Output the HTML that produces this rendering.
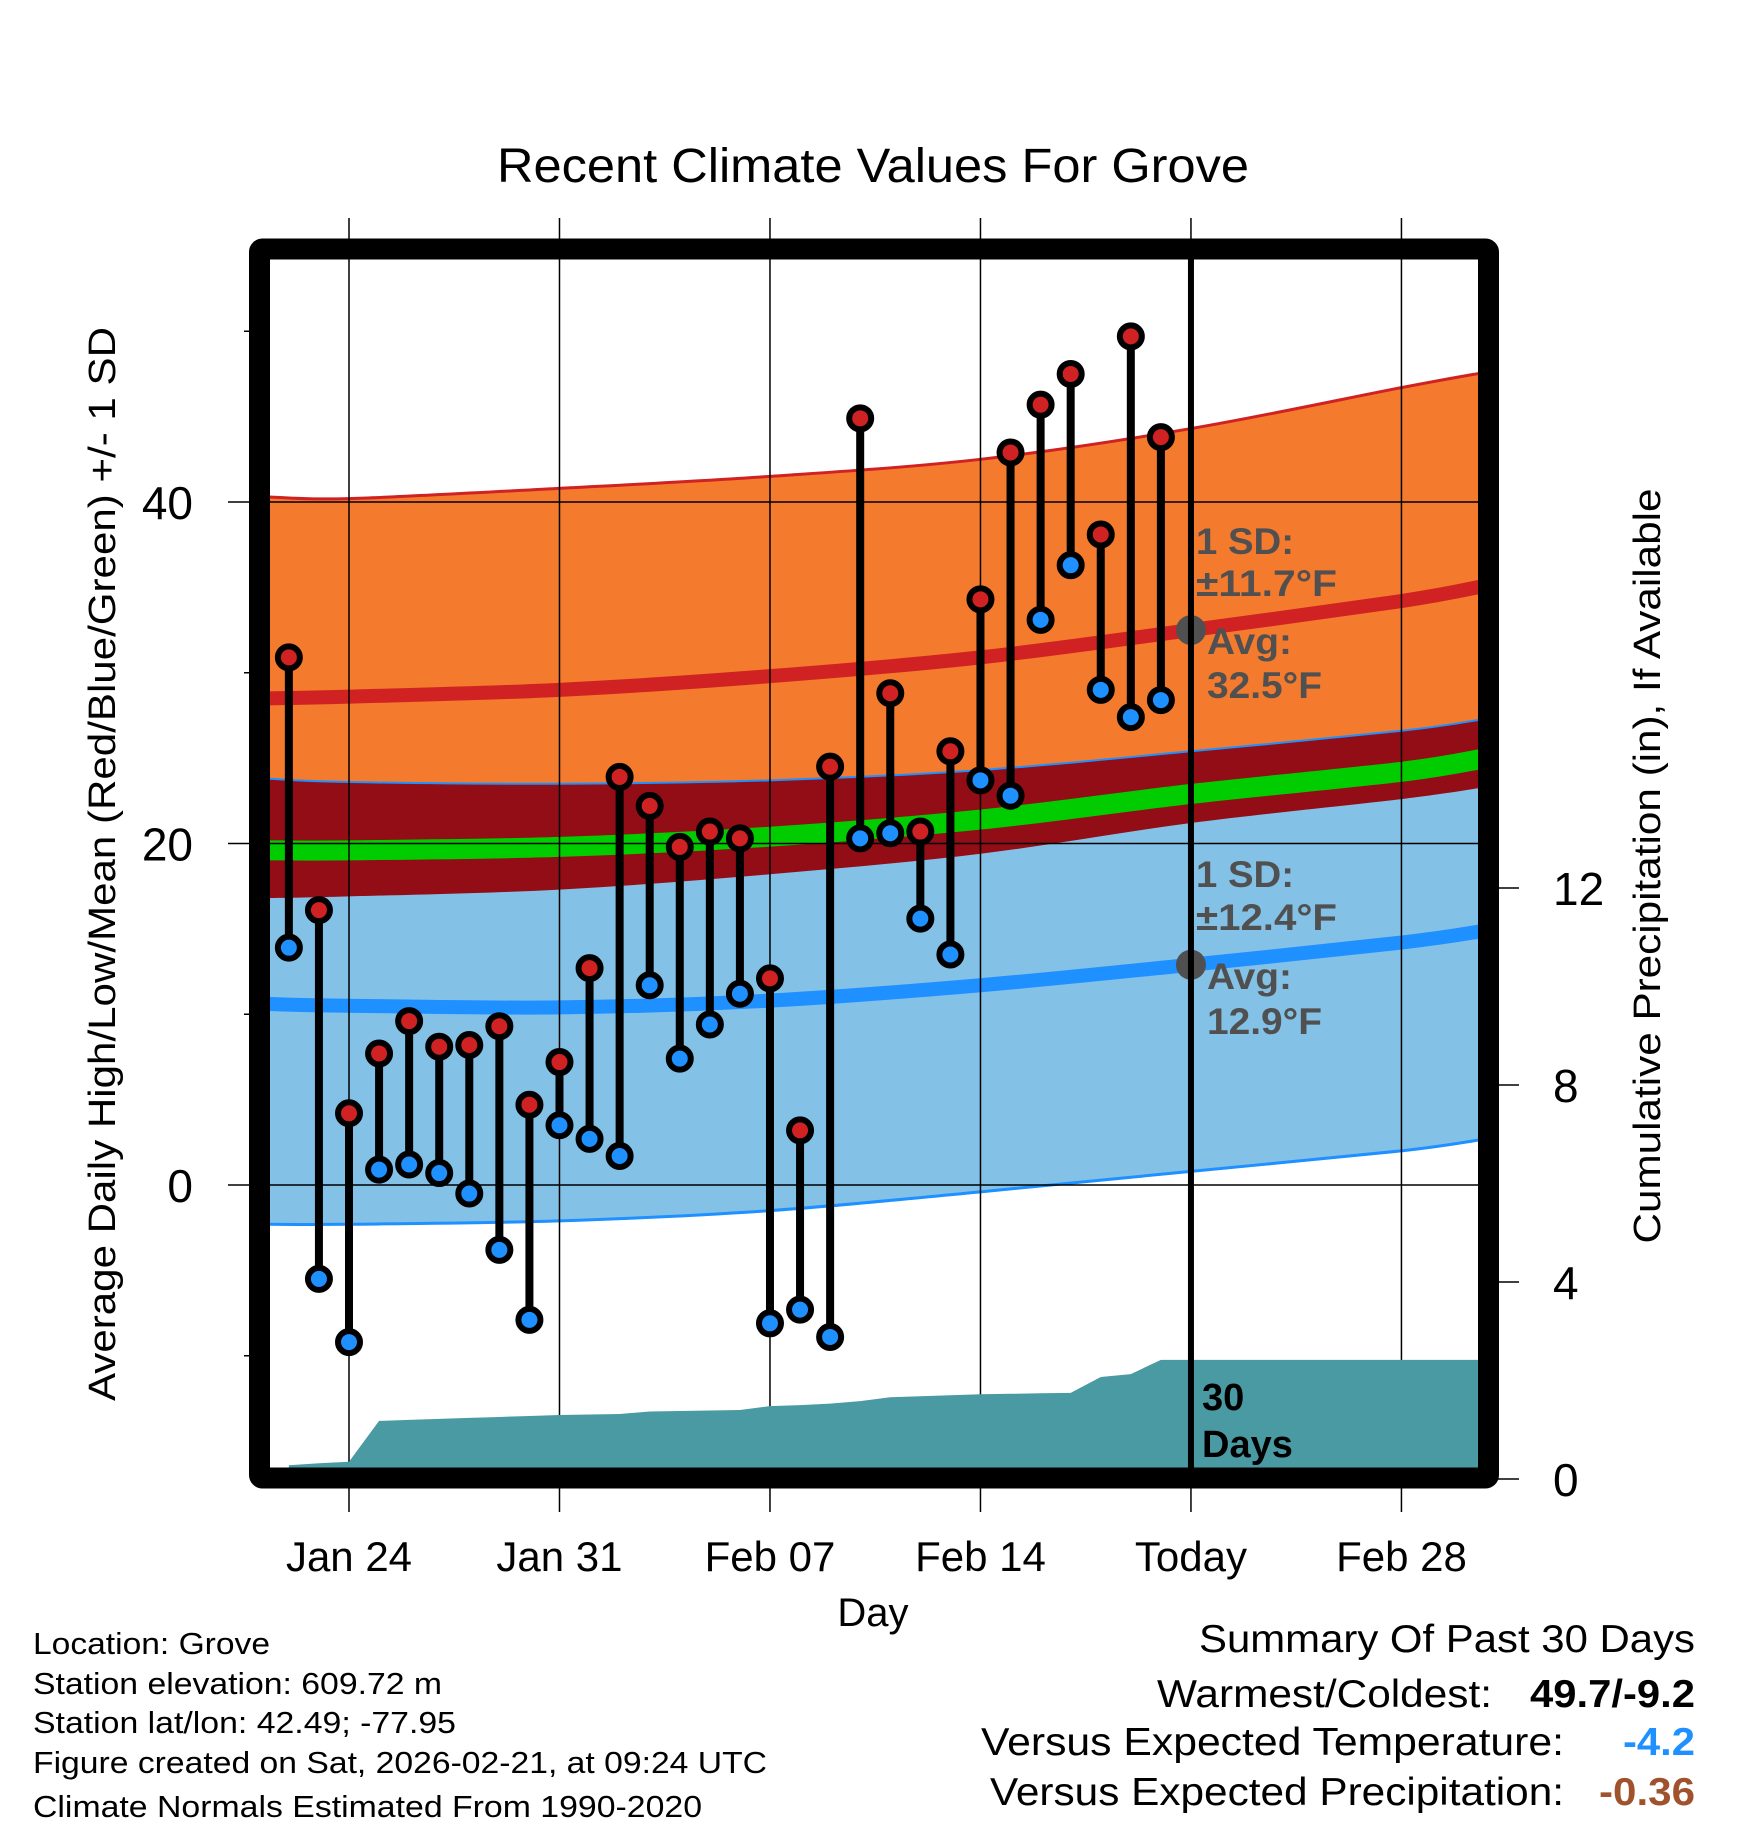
<!DOCTYPE html>
<html><head><meta charset="utf-8"><title>Recent Climate Values For Grove</title>
<style>html,body{margin:0;padding:0;background:#fff;}svg{display:block;font-family:"Liberation Sans",sans-serif;}</style>
</head><body>
<svg id="chart" width="1748" height="1828" viewBox="0 0 1748 1828" xmlns="http://www.w3.org/2000/svg">
<defs><clipPath id="plotclip"><rect x="270" y="259" width="1208" height="1209"/></clipPath></defs>
<text x="873" y="182" font-size="48" text-anchor="middle" textLength="752" lengthAdjust="spacingAndGlyphs">Recent Climate Values For Grove</text>
<g id="bands" clip-path="url(#plotclip)"></g>
<g id="grid"></g>
<g id="precip" clip-path="url(#plotclip)"></g>
<g id="annot"></g>
<g id="marks"></g>
<g id="axes"></g>
<text transform="translate(115,864) rotate(-90)" font-size="38" text-anchor="middle" textLength="1074" lengthAdjust="spacingAndGlyphs">Average Daily High/Low/Mean (Red/Blue/Green) +/- 1 SD</text>
<text transform="translate(1660,866) rotate(-90)" font-size="38" text-anchor="middle" textLength="755" lengthAdjust="spacingAndGlyphs">Cumulative Precipitation (in), If Available</text>
<text x="873" y="1626" font-size="40" text-anchor="middle">Day</text>
<g font-size="31">
<text x="33" y="1654" textLength="237" lengthAdjust="spacingAndGlyphs">Location: Grove</text>
<text x="33" y="1694" textLength="409" lengthAdjust="spacingAndGlyphs">Station elevation: 609.72 m</text>
<text x="33" y="1733" textLength="423" lengthAdjust="spacingAndGlyphs">Station lat/lon: 42.49; -77.95</text>
<text x="33" y="1773" textLength="734" lengthAdjust="spacingAndGlyphs">Figure created on Sat, 2026-02-21, at 09:24 UTC</text>
<text x="33" y="1817" textLength="669" lengthAdjust="spacingAndGlyphs">Climate Normals Estimated From 1990-2020</text>
</g>
<g font-size="39">
<text x="1199" y="1652" textLength="496" lengthAdjust="spacingAndGlyphs">Summary Of Past 30 Days</text>
<text x="1157" y="1707" textLength="335" lengthAdjust="spacingAndGlyphs">Warmest/Coldest:</text>
<text x="1530" y="1707" font-weight="bold" textLength="165" lengthAdjust="spacingAndGlyphs">49.7/-9.2</text>
<text x="981" y="1755" textLength="583" lengthAdjust="spacingAndGlyphs">Versus Expected Temperature:</text>
<text x="1623" y="1755" font-weight="bold" fill="#1e90ff" textLength="72" lengthAdjust="spacingAndGlyphs">-4.2</text>
<text x="990" y="1805" textLength="574" lengthAdjust="spacingAndGlyphs">Versus Expected Precipitation:</text>
<text x="1599" y="1805" font-weight="bold" fill="#a0522d" textLength="96" lengthAdjust="spacingAndGlyphs">-0.36</text>
</g>
</svg>
<script>
// ---- data ----
// day offsets relative to Jan 24
const obsDays = [-2,-1,0,1,2,3,4,5,6,7,8,9,10,11,12,13,14,15,16,17,18,19,20,21,22,23,24,25,26,27];
const highs = [30.9,16.1,4.2,7.7,9.6,8.1,8.2,9.3,4.7,7.2,12.7,23.9,22.2,19.8,20.7,20.3,12.1,3.2,24.5,44.9,28.8,20.7,25.4,34.3,42.9,45.7,47.5,38.1,49.7,43.8];
const lows = [13.9,-5.5,-9.2,0.9,1.2,0.7,-0.5,-3.8,-7.9,3.5,2.7,1.7,11.7,7.4,9.4,11.2,-8.1,-7.3,-8.9,20.3,20.6,15.6,13.5,23.7,22.8,33.1,36.3,29.0,27.4,28.4];
const precipDays = [-2,-1,0,1,2,3,4,5,6,7,8,9,10,11,12,13,14,15,16,17,18,19,20,21,22,23,24,25,26,27,38];
const precipCum = [0.28,0.32,0.35,1.18,1.2,1.22,1.24,1.26,1.28,1.3,1.31,1.32,1.37,1.38,1.39,1.4,1.48,1.5,1.53,1.58,1.66,1.68,1.7,1.72,1.73,1.74,1.75,2.07,2.13,2.42,2.42];
const normDays = [-2.7,0,7,14,21,28,35,37.8];
const highUpper = [40.3,40.2,40.8,41.5,42.5,44.3,46.7,47.6];
const highMean = [28.5,28.6,29.0,29.8,30.9,32.5,34.2,35.1];
const highLower = [16.8,16.9,17.3,18.2,19.4,21.2,22.6,23.3];
const avgMean = [19.6,19.6,19.8,20.4,21.4,22.9,24.2,25.0];
const lowUpper = [23.8,23.6,23.5,23.7,24.3,25.4,26.6,27.3];
const lowMean = [10.6,10.5,10.4,10.8,11.7,12.9,14.2,14.9];
const lowLower = [-2.3,-2.3,-2.1,-1.5,-0.4,0.8,2.0,2.7];
const xTickDays = [0,7,14,21,28,35];
const xTickLabels = ["Jan 24","Jan 31","Feb 07","Feb 14","Today","Feb 28"];
const yMajor = [0,20,40];
const yMinor = [-10,10,30,50];
const pTicks = [0,4,8,12];
const todayDay = 28;
const hiStat = {sd:"±11.7°F", avg:"32.5°F", val:32.5};
const loStat = {sd:"±12.4°F", avg:"12.9°F", val:12.9};

// ---- axes ----
const X = d => 349 + d*30.07;
const Y = t => 1185 - t*17.075;
const P = v => 1479 - v*49.25;
const NS = "http://www.w3.org/2000/svg";
function mk(tag, attrs, parent){const e=document.createElementNS(NS,tag);for(const k in attrs)e.setAttribute(k,attrs[k]);parent.appendChild(e);return e;}
function smooth(xs, ys){
  const pts = xs.map((d,i)=>[X(d),Y(ys[i])]);
  let s = "M"+pts[0][0]+","+pts[0][1];
  for(let i=0;i<pts.length-1;i++){
    const p0=pts[Math.max(0,i-1)],p1=pts[i],p2=pts[i+1],p3=pts[Math.min(pts.length-1,i+2)];
    const c1=[p1[0]+(p2[0]-p0[0])/6,p1[1]+(p2[1]-p0[1])/6];
    const c2=[p2[0]-(p3[0]-p1[0])/6,p2[1]-(p3[1]-p1[1])/6];
    s+=" C"+c1+" "+c2+" "+p2;
  }
  return s;
}
function band(upper, lower){
  const up = smooth(normDays, upper);
  const rd = normDays.slice().reverse(), rl = lower.slice().reverse();
  const lo = smooth(rd, rl).replace(/^M/," L");
  return up+lo+" Z";
}
const bands=document.getElementById('bands');
let e;
e=mk('path',{d:band(highUpper,highLower),fill:'#f47a2d'},bands);


e=mk('path',{d:band(lowUpper,lowLower),fill:'#83c1e7'},bands);


e=mk('path',{d:band(lowUpper,highLower),fill:'#920d15'},bands);


e=mk('path',{d:smooth(normDays,highUpper),fill:'none',stroke:'#d02222','stroke-width':3},bands);


e=mk('path',{d:smooth(normDays,lowUpper),fill:'none',stroke:'#1e90ff','stroke-width':2},bands);


e=mk('path',{d:smooth(normDays,lowLower),fill:'none',stroke:'#1e90ff','stroke-width':3},bands);


e=mk('path',{d:smooth(normDays,avgMean),fill:'none',stroke:'#00cc00','stroke-width':20},bands);


e=mk('path',{d:smooth(normDays,highMean),fill:'none',stroke:'#d02222','stroke-width':14},bands);


e=mk('path',{d:smooth(normDays,lowMean),fill:'none',stroke:'#1e90ff','stroke-width':14},bands);



// grid
const grid=document.getElementById('grid');
xTickDays.forEach(d=>{
  const g=mk('line',{x1:X(d),x2:X(d),y1:218,y2:1512,stroke:'#000','stroke-width':1.5},grid);
  
  
});
yMajor.forEach(t=>{
  const g=mk('line',{x1:228,x2:1478,y1:Y(t),y2:Y(t),stroke:'#000','stroke-width':1.5},grid);
  
  
});

// precip
const pg=document.getElementById('precip');
let pd="M"+X(precipDays[0])+","+P(0);
precipDays.forEach((d,i)=>{pd+=" L"+X(d)+","+P(precipCum[i]);});
pd+=" L"+X(precipDays[precipDays.length-1])+","+P(0)+" Z";
e=mk('path',{d:pd,fill:'#4a9aa3'},pg);



// annotations
const an=document.getElementById('annot');
function ann(stat, y1, y2, y3, y4, nm){
  const c=mk('circle',{cx:X(todayDay),cy:Y(stat.val),r:15,fill:'#505050'},an);
  
  
  [["1 SD:",1196,y1,98],[stat.sd,1196,y2,141],["Avg:",1207,y3,85],[stat.avg,1207,y4,115]].forEach(a=>{
    const t=mk('text',{x:a[1],y:a[2],'font-size':37,'font-weight':'bold',fill:'#505050',textLength:a[3],lengthAdjust:'spacingAndGlyphs'},an);
    t.textContent=a[0];
    
    
  });
}
ann(hiStat,554,596,654,698,'high');
ann(loStat,887,930,989,1034,'low');
e=mk('text',{x:1202,y:1410,'font-size':38,'font-weight':'bold'},an);e.textContent="30";


e=mk('text',{x:1202,y:1457,'font-size':38,'font-weight':'bold'},an);e.textContent="Days";



// marks
const mg=document.getElementById('marks');
obsDays.forEach((d,i)=>{
  const s=mk('line',{x1:X(d),x2:X(d),y1:Y(highs[i]),y2:Y(lows[i]),stroke:'#000','stroke-width':8},mg);
  
  
});
obsDays.forEach((d,i)=>{
  const h=mk('circle',{cx:X(d),cy:Y(highs[i]),r:11,fill:'#d02222',stroke:'#000','stroke-width':6},mg);
  
  
  const l=mk('circle',{cx:X(d),cy:Y(lows[i]),r:11,fill:'#1e90ff',stroke:'#000','stroke-width':6},mg);
  
  
});
e=mk('line',{x1:X(todayDay),x2:X(todayDay),y1:255,y2:1470,stroke:'#000','stroke-width':6},mg);



// axes
const ax=document.getElementById('axes');
e=mk('rect',{x:259.5,y:249,width:1229,height:1229,fill:'none',stroke:'#000','stroke-width':21,rx:3},ax);


yMajor.forEach(t=>{
  const l=mk('text',{x:193,y:Y(t)+17,'font-size':46,'text-anchor':'end'},ax);
  l.textContent=String(t);
  
  
});
yMinor.forEach(t=>{
  const l=mk('line',{x1:244,x2:252,y1:Y(t),y2:Y(t),stroke:'#000','stroke-width':1.5},ax);
  
  
});
pTicks.forEach(v=>{
  const l=mk('line',{x1:1497,x2:1519,y1:P(v),y2:P(v),stroke:'#000','stroke-width':1.5},ax);
  
  
  const t=mk('text',{x:1553,y:P(v)+17,'font-size':46},ax);
  t.textContent=String(v);
  
  
});
xTickDays.forEach((d,i)=>{
  const t=mk('text',{x:X(d),y:1571,'font-size':42,'text-anchor':'middle'},ax);
  t.textContent=xTickLabels[i];
  
  
});
</script>
</body></html>
